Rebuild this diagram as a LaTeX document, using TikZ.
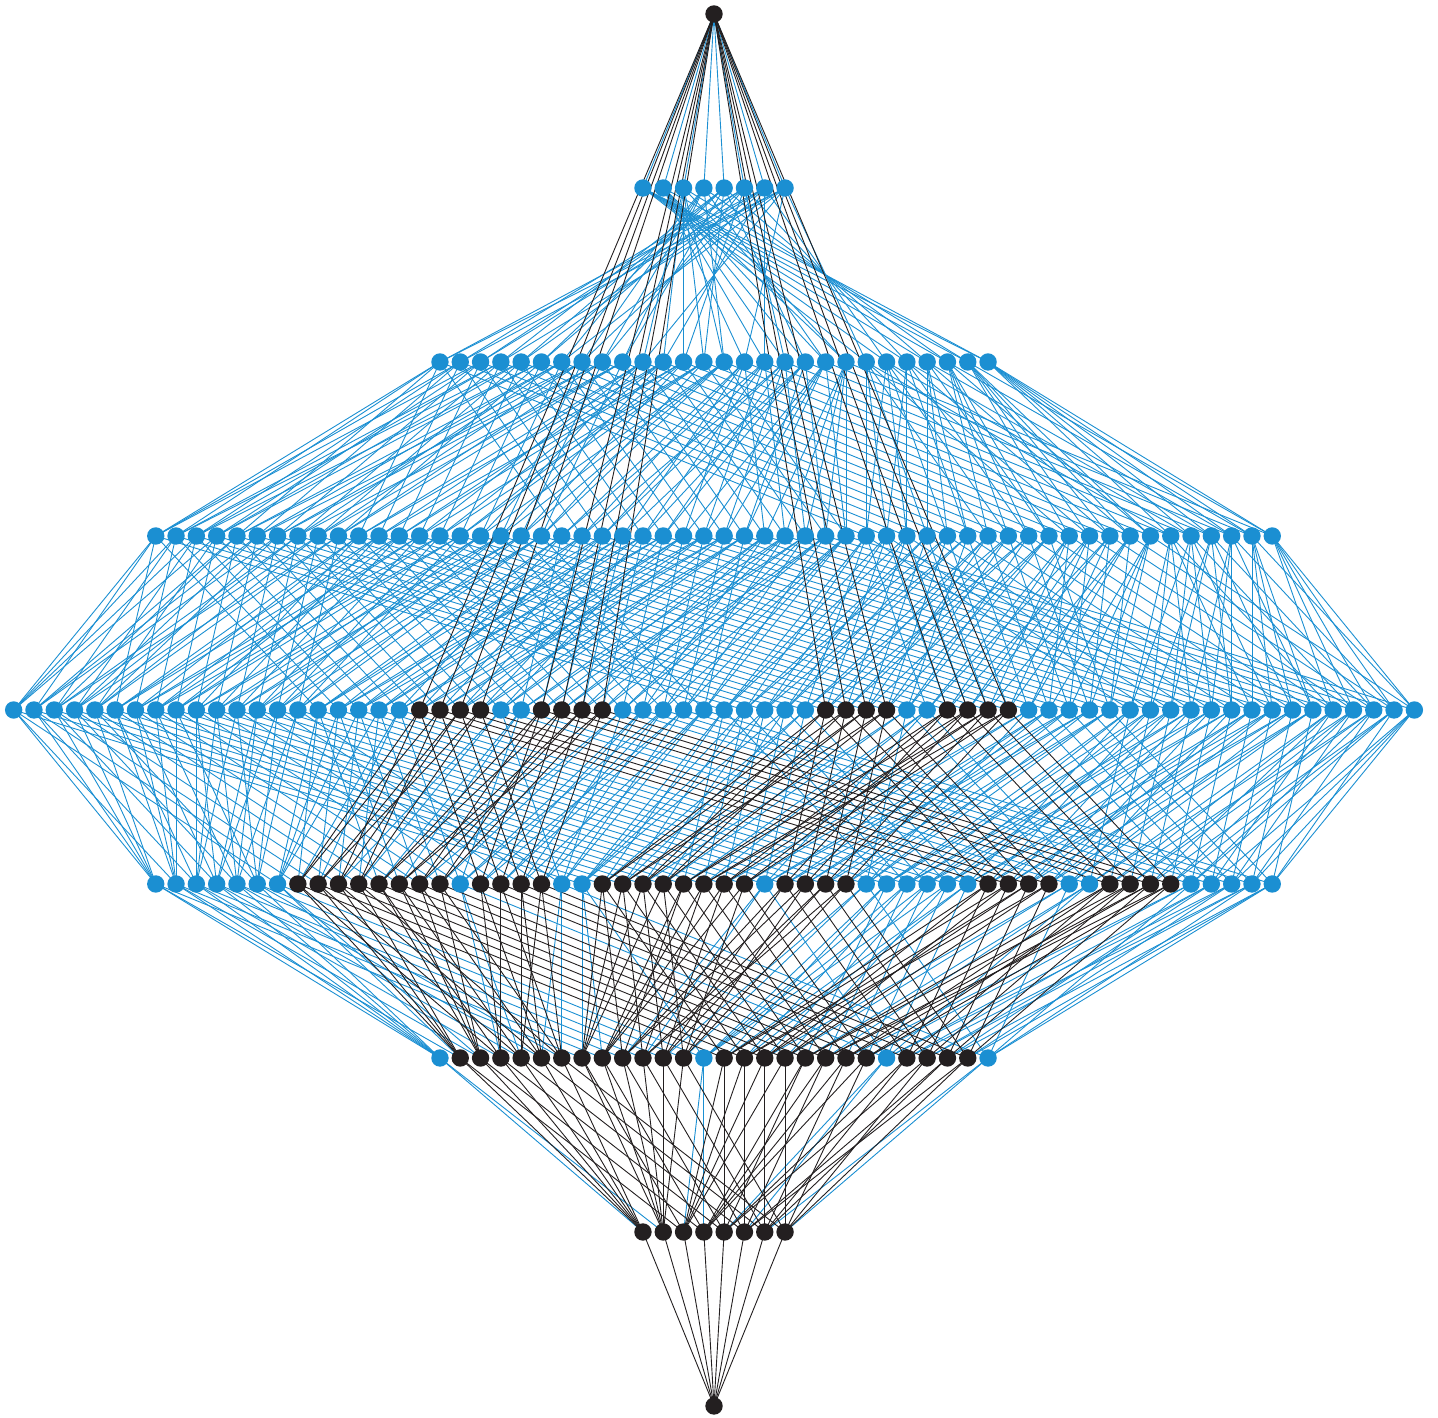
\documentclass[tikz,border=0pt]{standalone}
\definecolor{latblue}{RGB}{27,143,210}
\definecolor{latblack}{RGB}{35,31,32}
\tikzset{
  blueedge/.style={draw=latblue, line width=0.9pt},
  blackedge/.style={draw=latblack, line width=0.9pt},
  bluedot/.style={circle, fill=latblue, inner sep=0pt, minimum size=17.4pt},
  blackdot/.style={circle, fill=latblack, inner sep=0pt, minimum size=17.4pt},
}
% number of k-subsets of an 8-set
\newcommand\rowsize[1]{\ifcase#1 1\or 8\or 28\or 56\or 70\or 56\or 28\or 8\or 1\fi}
\begin{document}
\begin{tikzpicture}[x=1pt,y=1pt]
\useasboundingbox (0,0) rectangle (1438,1418);
% running position inside each rank
\foreach \k in {0,...,8}{\expandafter\xdef\csname rankpos\k\endcsname{0}}
% subsets of {1,...,8} as bit masks, element e <-> bit 2^(8-e);
% walking the masks downwards lists every rank in lexicographic order
% (the row of 7-sets is laid out the other way round)
\foreach \v in {255,254,...,0}{
  \pgfmathtruncatemacro\k{mod(\v,2)+mod(div(\v,2),2)+mod(div(\v,4),2)+mod(div(\v,8),2)+mod(div(\v,16),2)+mod(div(\v,32),2)+mod(div(\v,64),2)+mod(div(\v,128),2)}
  \edef\idx{\csname rankpos\k\endcsname}
  \pgfmathtruncatemacro\nxt{\idx+1}
  \expandafter\xdef\csname rankpos\k\endcsname{\nxt}
  \ifnum\k=7 \pgfmathtruncatemacro\idx{7-\idx}\fi
  \edef\rs{\rowsize{\k}}
  \pgfmathsetmacro\px{714+20.3*(\idx-(\rs-1)/2)}
  \pgfmathsetmacro\py{12+174*\k}
  \coordinate (c\v) at (\px,\py);
  % faces of the cross-polytope (no pair {1,2},{3,4},{5,6},{7,8}) and the top
  \pgfmathtruncatemacro\blk{(\k<5)*(mod(div(\v,64),4)<3)*(mod(div(\v,16),4)<3)*(mod(div(\v,4),4)<3)*(mod(\v,4)<3)+(\v==255)}
  \expandafter\xdef\csname blk\v\endcsname{\blk}
  \expandafter\xdef\csname rk\v\endcsname{\k}
}
% cover relations of the Boolean lattice
\foreach \v in {1,...,255}{
  \foreach \b in {1,2,4,8,16,32,64,128}{
    \pgfmathtruncatemacro\has{mod(div(\v,\b),2)}
    \ifnum\has=1
      \pgfmathtruncatemacro\u{\v-\b}
      \ifnum\csname blk\v\endcsname\csname blk\u\endcsname=11 \else
        \draw[blueedge] (c\u) -- (c\v);
      \fi
    \fi
  }
}
% cover relations of the face lattice
\foreach \v in {1,...,255}{
  \foreach \b in {1,2,4,8,16,32,64,128}{
    \pgfmathtruncatemacro\has{mod(div(\v,\b),2)}
    \ifnum\has=1
      \pgfmathtruncatemacro\u{\v-\b}
      \ifnum\csname blk\v\endcsname\csname blk\u\endcsname=11
        \draw[blackedge] (c\u) -- (c\v);
      \fi
    \fi
  }
}
% facets up to the top element
\foreach \v in {0,...,254}{
  \ifnum\csname rk\v\endcsname=4
    \ifnum\csname blk\v\endcsname=1
      \draw[blackedge] (c\v) -- (c255);
    \fi
  \fi
}
% elements
\foreach \v in {0,...,255}{
  \ifnum\csname blk\v\endcsname=1
    \node[blackdot] (n\v) at (c\v) {};
  \else
    \node[bluedot] (n\v) at (c\v) {};
  \fi
}
\end{tikzpicture}
\end{document}
